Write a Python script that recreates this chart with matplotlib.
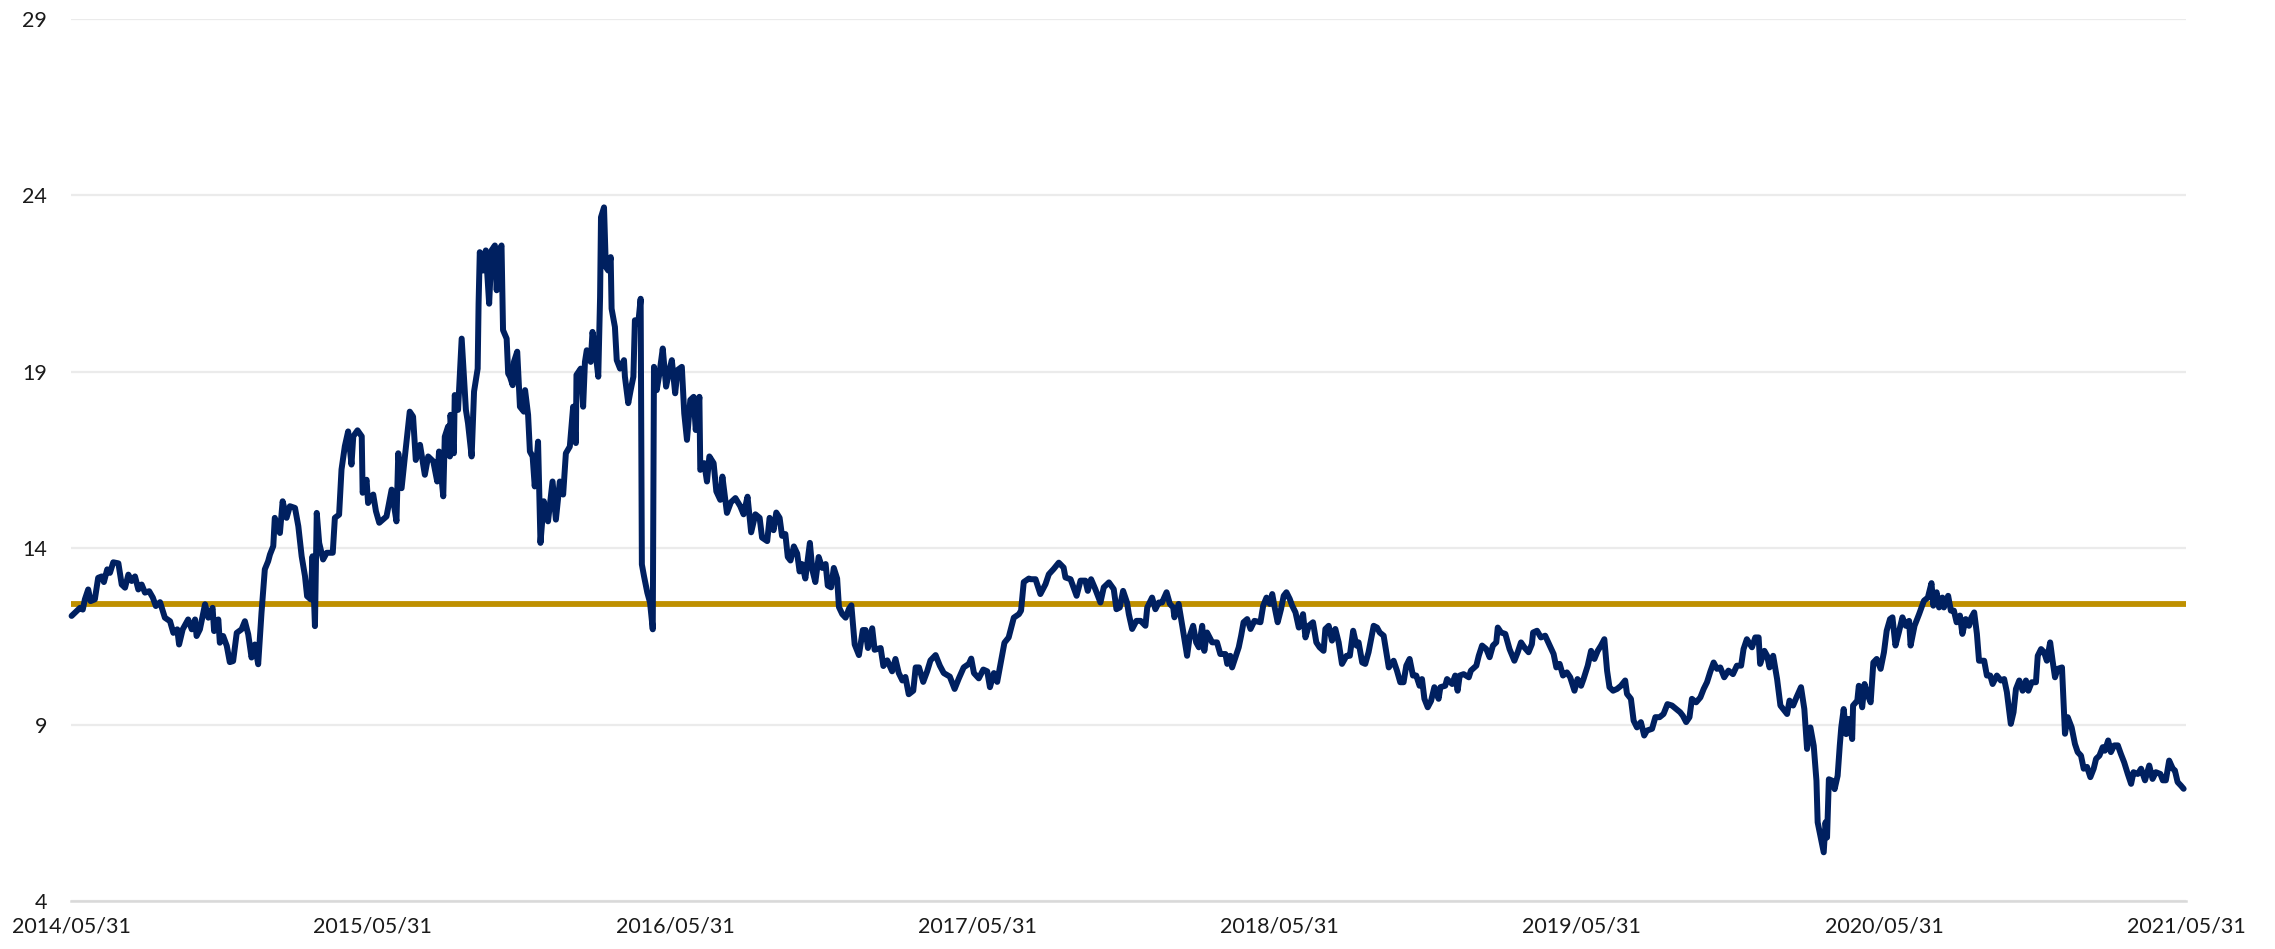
import matplotlib
matplotlib.use("Agg")
import matplotlib.pyplot as plt
from datetime import datetime

# ---- data ----
# dates as decimal years, values of the series
t_dec = [
    2014.413, 2014.430, 2014.441, 2014.450, 2014.457, 2014.468, 2014.476, 2014.490, 2014.501, 2014.513,
    2014.520, 2014.531, 2014.540, 2014.551, 2014.568, 2014.579, 2014.590, 2014.601, 2014.612, 2014.623,
    2014.634, 2014.645, 2014.656, 2014.670, 2014.682, 2014.692, 2014.706, 2014.722, 2014.739, 2014.750,
    2014.763, 2014.769, 2014.781, 2014.799, 2014.811, 2014.822, 2014.827, 2014.838, 2014.855, 2014.866,
    2014.880, 2014.885, 2014.899, 2014.904, 2014.915, 2014.927, 2014.937, 2014.948, 2014.960, 2014.976,
    2014.987, 2014.998, 2015.009, 2015.020, 2015.031, 2015.042, 2015.053, 2015.064, 2015.070, 2015.081,
    2015.086, 2015.103, 2015.112, 2015.125, 2015.136, 2015.153, 2015.164, 2015.175, 2015.186, 2015.193,
    2015.205, 2015.211, 2015.219, 2015.225, 2015.233, 2015.246, 2015.258, 2015.278, 2015.285, 2015.299,
    2015.307, 2015.318, 2015.329, 2015.340, 2015.346, 2015.360, 2015.374, 2015.377, 2015.390, 2015.395,
    2015.412, 2015.421, 2015.432,
    2015.456, 2015.473, 2015.489, 2015.495, 2015.506, 2015.517, 2015.533, 2015.544, 2015.553, 2015.567,
    2015.583, 2015.594, 2015.611, 2015.624, 2015.630, 2015.644, 2015.649, 2015.660, 2015.666, 2015.668,
    2015.679, 2015.682, 2015.693, 2015.705, 2015.719, 2015.726, 2015.738, 2015.746, 2015.758, 2015.761,
    2015.765, 2015.776, 2015.785, 2015.796, 2015.804, 2015.815, 2015.821, 2015.826, 2015.837, 2015.842,
    2015.854, 2015.859, 2015.865, 2015.874, 2015.878, 2015.889, 2015.898, 2015.911, 2015.915, 2015.925,
    2015.931, 2015.940, 2015.947, 2015.958, 2015.966, 2015.977, 2015.991, 2016.006, 2016.017, 2016.030,
    2016.041, 2016.050, 2016.063, 2016.074, 2016.083, 2016.085, 2016.099, 2016.107, 2016.113, 2016.119,
    2016.132, 2016.138, 2016.146, 2016.157, 2016.163, 2016.166, 2016.176, 2016.182, 2016.190, 2016.198,
    2016.201, 2016.212, 2016.218, 2016.229, 2016.242, 2016.245, 2016.256, 2016.264, 2016.273, 2016.278,
    2016.289, 2016.297, 2016.301, 2016.308, 2016.319, 2016.328, 2016.337, 2016.341, 2016.350, 2016.359,
    2016.370, 2016.381, 2016.392, 2016.400, 2016.411, 2016.419, 2016.433, 2016.441, 2016.450, 2016.461,
    2016.472, 2016.479, 2016.491, 2016.494, 2016.507, 2016.516, 2016.524, 2016.538, 2016.547, 2016.560,
    2016.567, 2016.582, 2016.595, 2016.610, 2016.626,
    2016.637, 2016.650, 2016.662, 2016.676, 2016.690, 2016.698, 2016.715, 2016.723, 2016.736, 2016.745,
    2016.756, 2016.764, 2016.775, 2016.783, 2016.792, 2016.803, 2016.814, 2016.822, 2016.830, 2016.841,
    2016.856, 2016.864, 2016.874, 2016.885, 2016.897, 2016.908, 2016.915, 2016.926, 2016.935, 2016.946,
    2016.952, 2016.963, 2016.974, 2016.985, 2016.993, 2017.004, 2017.018, 2017.031, 2017.040, 2017.048,
    2017.062, 2017.070, 2017.090, 2017.099, 2017.112, 2017.128, 2017.139, 2017.150, 2017.162, 2017.172,
    2017.183, 2017.198, 2017.206, 2017.217, 2017.231, 2017.244, 2017.255, 2017.272, 2017.286, 2017.299,
    2017.319, 2017.335, 2017.349, 2017.365, 2017.382, 2017.390, 2017.399, 2017.415, 2017.430, 2017.443,
    2017.452, 2017.465, 2017.476, 2017.487, 2017.500, 2017.514, 2017.531, 2017.548, 2017.555, 2017.564,
    2017.581,
    2017.586, 2017.603, 2017.619, 2017.636, 2017.647, 2017.663, 2017.680, 2017.696, 2017.702, 2017.719,
    2017.739, 2017.752, 2017.768, 2017.776, 2017.787, 2017.801, 2017.818, 2017.829, 2017.846, 2017.862,
    2017.871, 2017.882, 2017.893, 2017.906, 2017.912, 2017.923, 2017.937, 2017.951, 2017.967, 2017.973,
    2017.989, 2018.000, 2018.011, 2018.022, 2018.037, 2018.048, 2018.059, 2018.063, 2018.077, 2018.089,
    2018.105, 2018.114, 2018.125, 2018.135, 2018.144, 2018.155, 2018.162, 2018.171, 2018.188, 2018.204,
    2018.215, 2018.232, 2018.238, 2018.248, 2018.254, 2018.265, 2018.276, 2018.284, 2018.292, 2018.304,
    2018.315, 2018.328, 2018.348, 2018.357, 2018.368, 2018.379, 2018.387, 2018.394, 2018.405, 2018.416,
    2018.425, 2018.434, 2018.445, 2018.453, 2018.464, 2018.475, 2018.489, 2018.497, 2018.508, 2018.522,
    2018.533, 2018.544, 2018.557, 2018.563, 2018.574, 2018.585, 2018.596, 2018.607, 2018.618, 2018.633,
    2018.644, 2018.655, 2018.666, 2018.673, 2018.685, 2018.695, 2018.706,
    2018.723, 2018.734, 2018.743, 2018.756, 2018.765, 2018.773, 2018.789, 2018.800, 2018.811, 2018.822,
    2018.831, 2018.842, 2018.853, 2018.864, 2018.875, 2018.883, 2018.891, 2018.902, 2018.913, 2018.924,
    2018.938, 2018.944, 2018.960, 2018.966, 2018.983, 2018.993, 2019.001, 2019.008, 2019.021, 2019.038,
    2019.045, 2019.063, 2019.071, 2019.082, 2019.096, 2019.107, 2019.118, 2019.129, 2019.134, 2019.145,
    2019.159, 2019.173, 2019.189, 2019.200, 2019.211, 2019.222, 2019.236, 2019.247, 2019.251, 2019.264,
    2019.277, 2019.291, 2019.306, 2019.319, 2019.328, 2019.339, 2019.350, 2019.363, 2019.374, 2019.388,
    2019.398, 2019.410, 2019.418, 2019.432, 2019.443, 2019.454, 2019.465, 2019.476, 2019.487, 2019.496,
    2019.504, 2019.516, 2019.529, 2019.542, 2019.556, 2019.562, 2019.575, 2019.584, 2019.595, 2019.608,
    2019.619, 2019.628, 2019.645, 2019.656, 2019.670, 2019.683, 2019.696, 2019.711, 2019.725, 2019.738,
    2019.747, 2019.758, 2019.769, 2019.777, 2019.791, 2019.805, 2019.816, 2019.827, 2019.838,
    2019.849, 2019.860, 2019.871, 2019.884, 2019.898, 2019.913, 2019.926, 2019.940, 2019.948, 2019.959,
    2019.976, 2019.987, 2019.998, 2020.003, 2020.017, 2020.026, 2020.034, 2020.046, 2020.059, 2020.070,
    2020.083, 2020.092, 2020.100, 2020.112, 2020.123, 2020.138, 2020.149, 2020.158, 2020.169, 2020.180,
    2020.189, 2020.193, 2020.202, 2020.213, 2020.219, 2020.224, 2020.230, 2020.241, 2020.249, 2020.259,
    2020.266, 2020.271, 2020.279, 2020.287, 2020.296, 2020.307, 2020.310, 2020.324, 2020.329, 2020.340,
    2020.348, 2020.357, 2020.368, 2020.377, 2020.388, 2020.401, 2020.412, 2020.421, 2020.432, 2020.440,
    2020.450, 2020.461, 2020.473, 2020.484, 2020.495, 2020.500, 2020.513, 2020.528, 2020.544, 2020.557,
    2020.569, 2020.575, 2020.586, 2020.594, 2020.605, 2020.610, 2020.624, 2020.633, 2020.643, 2020.652,
    2020.663, 2020.671, 2020.682, 2020.693, 2020.701, 2020.710, 2020.719, 2020.726, 2020.743, 2020.752,
    2020.763, 2020.771, 2020.785, 2020.798, 2020.809, 2020.818, 2020.826, 2020.831, 2020.840, 2020.848,
    2020.859, 2020.870, 2020.881, 2020.889, 2020.900, 2020.914, 2020.920, 2020.931, 2020.941, 2020.950,
    2020.961, 2020.969, 2020.977, 2020.986, 2021.000, 2021.010, 2021.019, 2021.032,
    2021.043, 2021.052, 2021.063, 2021.072, 2021.083, 2021.094, 2021.105, 2021.113, 2021.124, 2021.135,
    2021.142, 2021.153, 2021.162, 2021.173, 2021.185, 2021.195, 2021.206, 2021.218, 2021.229, 2021.237,
    2021.251, 2021.262, 2021.275, 2021.289, 2021.300, 2021.311, 2021.326, 2021.334, 2021.344, 2021.355,
    2021.367, 2021.374, 2021.383, 2021.394, 2021.403,
]

values = [
    12.08, 12.22, 12.31, 12.26, 12.55, 12.83, 12.50, 12.55, 13.16, 13.20,
    13.04, 13.40, 13.30, 13.60, 13.57, 12.97, 12.88, 13.25, 13.07, 13.20,
    12.83, 12.97, 12.74, 12.78, 12.60, 12.36, 12.47, 12.03, 11.93, 11.60,
    11.70, 11.27, 11.70, 11.98, 11.70, 11.98, 11.51, 11.70, 12.41, 12.03,
    12.31, 11.65, 11.98, 11.32, 11.51, 11.23, 10.77, 10.80, 11.60, 11.70,
    11.93, 11.56, 10.90, 11.27, 10.71, 12.17, 13.40, 13.63, 13.82, 14.06,
    14.86, 14.43, 15.33, 14.86, 15.19, 15.14, 14.62, 13.77, 13.21, 12.64,
    12.55, 13.77, 11.79, 15.00, 14.15, 13.68, 13.87, 13.87, 14.86, 14.95,
    16.23, 16.89, 17.31, 16.37, 17.17, 17.34, 17.17, 15.57, 15.94, 15.28,
    15.52, 15.05, 14.72,
    14.90, 15.66, 14.76, 16.69, 15.70, 16.60, 17.87, 17.73, 16.50, 16.93,
    16.08, 16.60, 16.46, 15.89, 16.74, 15.47, 17.16, 17.45, 16.60, 17.78,
    16.69, 18.34, 17.92, 19.94, 17.92, 17.54, 16.60, 18.44, 19.09, 20.93,
    22.39, 21.87, 22.44, 20.93, 22.44, 22.58, 21.31, 22.34, 22.58, 20.18,
    19.94, 18.95, 18.86, 18.62, 19.28, 19.57, 18.01, 17.87, 18.48, 17.78,
    16.74, 16.60, 15.75, 17.02, 14.15, 15.33, 14.76, 15.89, 14.81, 15.89,
    15.52, 16.69, 16.88, 18.01, 16.98, 18.91, 19.09, 18.01, 19.28, 19.61,
    19.28, 20.13, 19.71, 18.86, 21.12, 23.38, 23.66, 21.97, 21.87, 22.25,
    20.79, 20.27, 19.33, 19.09, 19.33, 18.86, 18.11, 18.48, 18.86, 20.46,
    20.37, 21.07, 13.54, 13.21, 12.74, 12.46, 11.70, 19.14, 18.48, 18.95,
    19.66, 18.58, 19.05, 19.33, 18.39, 19.05, 19.14, 17.82, 17.07, 18.20,
    18.29, 17.35, 18.29, 16.22, 16.41, 15.89, 16.60, 16.41, 15.61, 15.37,
    16.03, 15.00, 15.30, 15.42, 15.19,
    14.96, 15.46, 14.45, 14.96, 14.86, 14.30, 14.20, 14.86, 14.51, 15.01,
    14.86, 14.35, 14.40, 13.75, 13.65, 14.05, 13.85, 13.34, 13.55, 13.14,
    14.15, 13.39, 13.04, 13.75, 13.44, 13.55, 12.94, 12.89, 13.44, 13.14,
    12.33, 12.13, 12.03, 12.28, 12.38, 11.27, 10.97, 11.68, 11.68, 11.17,
    11.73, 11.12, 11.17, 10.66, 10.82, 10.51, 10.86, 10.46, 10.25, 10.35,
    9.86, 9.96, 10.62, 10.62, 10.21, 10.51, 10.82, 10.97, 10.67, 10.46,
    10.36, 10.01, 10.31, 10.62, 10.72, 10.87, 10.46, 10.31, 10.56, 10.51,
    10.06, 10.46, 10.21, 10.72, 11.32, 11.47, 12.03, 12.13, 12.23, 13.04,
    13.14,
    13.12, 13.12, 12.70, 12.98, 13.26, 13.41, 13.59, 13.45, 13.17, 13.12,
    12.65, 13.08, 13.08, 12.79, 13.12, 12.84, 12.46, 12.89, 13.03, 12.84,
    12.27, 12.32, 12.79, 12.46, 12.13, 11.71, 11.94, 11.94, 11.80, 12.32,
    12.60, 12.27, 12.46, 12.46, 12.75, 12.42, 12.32, 12.04, 12.42, 11.80,
    10.95, 11.52, 11.80, 11.33, 11.19, 11.80, 11.09, 11.61, 11.33, 11.33,
    11.00, 11.00, 10.72, 10.95, 10.62, 10.91, 11.19, 11.52, 11.90, 11.99,
    11.71, 11.94, 11.90, 12.37, 12.60, 12.42, 12.70, 12.37, 11.90, 12.27,
    12.65, 12.75, 12.56, 12.37, 12.18, 11.75, 12.13, 11.47, 11.80, 11.90,
    11.33, 11.19, 11.09, 11.71, 11.80, 11.38, 11.71, 11.33, 10.72, 10.95,
    10.95, 11.66, 11.24, 11.33, 10.76, 10.72, 11.05,
    11.80, 11.75, 11.61, 11.52, 11.05, 10.62, 10.81, 10.53, 10.20, 10.20,
    10.67, 10.86, 10.39, 10.39, 10.10, 10.29, 9.73, 9.49, 9.67, 10.06,
    9.73, 10.06, 10.10, 10.29, 10.15, 10.39, 9.96, 10.39, 10.43, 10.34,
    10.53, 10.67, 10.95, 11.24, 11.14, 10.91, 11.24, 11.33, 11.75, 11.61,
    11.57, 11.14, 10.81, 11.05, 11.33, 11.19, 11.05, 11.28, 11.61, 11.66,
    11.47, 11.52, 11.24, 11.00, 10.62, 10.72, 10.39, 10.48, 10.34, 9.96,
    10.29, 10.10, 10.29, 10.67, 11.09, 10.86, 11.09, 11.24, 11.42, 10.53,
    10.06, 9.96, 10.01, 10.10, 10.25, 9.87, 9.73, 9.11, 8.92, 9.07,
    8.69, 8.83, 8.88, 9.21, 9.21, 9.30, 9.58, 9.54, 9.44, 9.35,
    9.25, 9.07, 9.21, 9.73, 9.63, 9.77, 10.01, 10.20, 10.50,
    10.76, 10.58, 10.62, 10.34, 10.53, 10.43, 10.67, 10.67, 11.14, 11.42,
    11.19, 11.47, 11.47, 10.72, 11.09, 10.95, 10.62, 10.95, 10.29, 9.54,
    9.40, 9.30, 9.68, 9.54, 9.77, 10.06, 9.44, 8.31, 8.92, 8.40,
    7.41, 6.23, 5.85, 5.38, 6.23, 5.80, 7.45, 7.41, 7.17, 7.55,
    8.40, 8.92, 9.44, 8.73, 9.16, 8.59, 9.54, 9.68, 10.10, 9.49,
    10.15, 9.87, 9.63, 10.76, 10.86, 10.58, 11.05, 11.66, 11.99, 12.04,
    11.24, 11.61, 12.04, 11.80, 11.94, 11.24, 11.80, 12.13, 12.51, 12.60,
    13.01, 12.37, 12.75, 12.32, 12.60, 12.32, 12.65, 12.23, 12.23, 11.90,
    12.09, 11.57, 11.99, 11.80, 12.04, 12.18, 11.57, 10.81, 10.81, 10.39,
    10.39, 10.15, 10.39, 10.25, 10.29, 9.92, 9.35, 9.02, 9.35, 10.01,
    10.25, 9.96, 10.25, 9.96, 10.20, 10.20, 10.95, 11.14, 11.05, 10.81,
    11.33, 10.81, 10.34, 10.58, 10.62, 8.74, 9.21, 8.92,
    8.45, 8.22, 8.12, 7.75, 7.80, 7.51, 7.75, 8.03, 8.12, 8.36,
    8.26, 8.55, 8.22, 8.41, 8.41, 8.17, 7.93, 7.60, 7.32, 7.65,
    7.60, 7.75, 7.42, 7.84, 7.46, 7.65, 7.60, 7.42, 7.42, 7.98,
    7.75, 7.70, 7.37, 7.27, 7.18,
]

avg_level = 12.42
y_ticks = [4, 9, 14, 19, 24, 29]
x_tick_labels = ["2014/05/31", "2015/05/31", "2016/05/31", "2017/05/31",
                 "2018/05/31", "2019/05/31", "2020/05/31", "2021/05/31"]


def dec_to_dt(t):
    y = int(t)
    start = datetime(y, 1, 1)
    end = datetime(y + 1, 1, 1)
    return start + (end - start) * (t - y)


dates = [dec_to_dt(t) for t in t_dec]
tick_dates = [datetime.strptime(s, "%Y/%m/%d") for s in x_tick_labels]

plt.rcParams['font.family'] = ['Lato', 'DejaVu Sans']

fig = plt.figure(figsize=(22.75, 9.49), dpi=100)
ax = fig.add_axes([0.0312, 0.0506, 0.9297, 0.9294])

ax.set_xlim(tick_dates[0], tick_dates[-1])
ax.set_ylim(4, 29)
ax.set_yticks(y_ticks)
ax.set_yticklabels([str(v) for v in y_ticks])
ax.set_xticks(tick_dates)
ax.set_xticklabels(x_tick_labels)

ax.grid(axis='y', color='#EBEBEB', linewidth=1.6)
ax.grid(axis='x', visible=False)
ax.set_axisbelow(True)
for s in ['top', 'right', 'left']:
    ax.spines[s].set_visible(False)
ax.spines['bottom'].set_color('#D9D9D9')
ax.spines['bottom'].set_linewidth(1.8)

ax.hlines(avg_level, tick_dates[0], tick_dates[-1], color='#BF9000',
          linewidth=4.2, capstyle='round', zorder=3)
ax.plot(dates, values, color='#002060', linewidth=4.3,
        solid_joinstyle='round', solid_capstyle='round', zorder=4, clip_on=False)

ax.tick_params(axis='both', length=0, labelsize=15.5, colors='#1a1a1a')
ax.tick_params(axis='y', pad=17)
ax.tick_params(axis='x', pad=11)

fig.savefig('out.png', dpi=100)
